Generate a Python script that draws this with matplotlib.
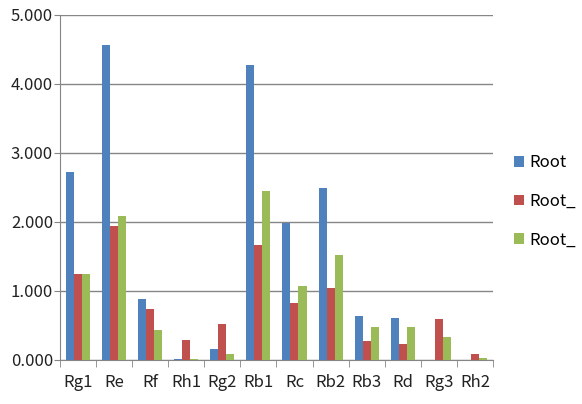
import numpy as np
import matplotlib.pyplot as plt

plt.rcParams['font.family'] = ['Noto Sans CJK KR', 'DejaVu Sans']

categories = ['Rg1', 'Re', 'Rf', 'Rh1', 'Rg2', 'Rb1', 'Rc', 'Rb2', 'Rb3', 'Rd', 'Rg3', 'Rh2']
root = [2.72, 4.56, 0.88, 0.01, 0.16, 4.27, 1.98, 2.49, 0.63, 0.61, 0.0, 0.0]
root_a = [1.25, 1.94, 0.74, 0.29, 0.52, 1.67, 0.83, 1.05, 0.27, 0.23, 0.59, 0.08]
root_b = [1.25, 2.09, 0.43, 0.02, 0.08, 2.45, 1.07, 1.52, 0.48, 0.48, 0.34, 0.03]
labels = ['Root', 'Root_', 'Root_']
colors = ['#4F81BD', '#C0504D', '#9BBB59']

fig = plt.figure(figsize=(5.82, 4.04), dpi=100)
ax = fig.add_axes([0.103, 0.109, 0.744, 0.854])

x = np.arange(len(categories))
w = 0.222
for i, (vals, lab, c) in enumerate(zip([root, root_a, root_b], labels, colors)):
    ax.bar(x + (i - 1) * w, vals, w, color=c, label=lab, zorder=3)

ax.set_xlim(-0.5, len(categories) - 0.5)
ax.set_ylim(0, 5)
yt = np.arange(0, 6)
ax.set_yticks(yt)
ax.set_yticklabels(['%.3f' % v for v in yt], fontsize=12, color='#222222')
ax.set_xticks(x)
ax.set_xticklabels(categories, fontsize=12, color='#222222')
ax.set_xticks(np.arange(-0.5, len(categories)), minor=True)
ax.tick_params(axis='x', which='major', length=0, pad=10)
ax.tick_params(axis='x', which='minor', length=5, color='#868686')
ax.tick_params(axis='y', length=4, color='#868686', pad=1)
ax.grid(axis='y', color='#868686', linewidth=1, zorder=0)
for s in ['top', 'right']:
    ax.spines[s].set_visible(False)
for s in ['left', 'bottom']:
    ax.spines[s].set_color('#868686')

ax.legend(loc='upper left', bbox_to_anchor=(1.015, 0.64), frameon=False,
          handlelength=0.6, handleheight=0.6, handletextpad=0.3,
          labelspacing=1.3, fontsize=12)

fig.savefig('out.png', dpi=100)
